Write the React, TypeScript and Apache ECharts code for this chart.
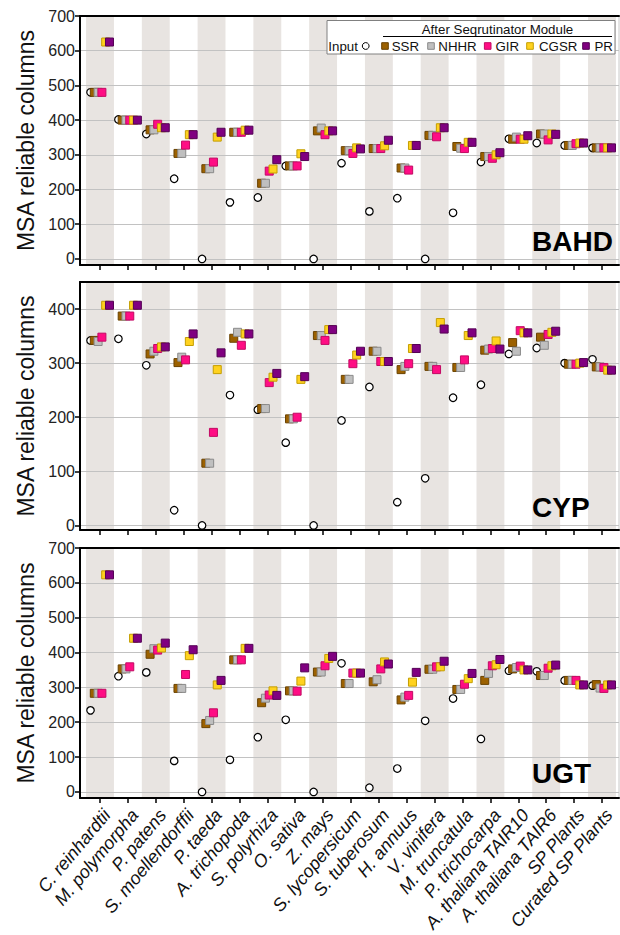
import React, { useEffect, useRef } from 'react';
import * as echarts from 'echarts';

const categories = [
  'C. reinhardtii', 'M. polymorpha', 'P. patens', 'S. moellendorffii', 'P. taeda',
  'A. trichopoda', 'S. polyrhiza', 'O. sativa', 'Z. mays', 'S. lycopersicum',
  'S. tuberosum', 'H. annuus', 'V. vinifera', 'M. truncatula', 'P. trichocarpa',
  'A. thaliana TAIR10', 'A. thaliana TAIR6', 'SP Plants', 'Curated SP Plants',
];

const seriesNames = ['Input', 'SSR', 'NHHR', 'GIR', 'CGSR', 'PR'];

// BAHD
const bahdInput = [480, 402, 360, 231, 0, 163, 177, 268, 0, 276, 137, 175, 0, 133, 279, 346, 334, 327, 320];
const bahdSSR = [480, 400, 372, 304, 260, 365, 218, 268, 369, 312, 318, 262, 356, 324, 295, 345, 360, 327, 320];
const bahdNHHR = [480, 400, 372, 304, 260, 365, 218, 268, 377, 312, 318, 262, 356, 319, 295, 351, 360, 327, 320];
const bahdGIR = [480, 400, 388, 328, 279, 365, 253, 268, 358, 304, 318, 256, 352, 318, 290, 345, 343, 332, 320];
const bahdCGSR = [625, 400, 378, 358, 351, 371, 259, 303, 369, 320, 326, 327, 378, 336, 300, 345, 360, 334, 320];
const bahdPR = [625, 400, 378, 358, 365, 371, 286, 295, 369, 317, 342, 327, 378, 336, 306, 355, 359, 334, 320];

// CYP
const cypInput = [342, 345, 296, 28, 0, 241, 214, 153, 0, 194, 256, 43, 87, 236, 260, 317, 328, 300, 307];
const cypSSR = [342, 387, 317, 301, 115, 346, 216, 197, 351, 270, 322, 288, 294, 292, 324, 338, 348, 298, 293];
const cypNHHR = [340, 387, 322, 311, 115, 357, 216, 197, 351, 270, 322, 294, 294, 292, 326, 322, 333, 298, 293];
const cypGIR = [348, 387, 327, 306, 172, 333, 264, 200, 342, 299, 303, 299, 288, 306, 327, 360, 353, 298, 292];
const cypCGSR = [407, 407, 330, 340, 288, 354, 274, 270, 362, 315, 303, 327, 375, 351, 341, 356, 357, 300, 287];
const cypPR = [407, 407, 330, 354, 319, 354, 281, 275, 362, 322, 303, 327, 363, 356, 326, 356, 359, 301, 287];

// UGT
const ugtInput = [234, 332, 343, 89, 0, 92, 157, 207, 0, 369, 12, 67, 204, 268, 152, 348, 346, 320, 305];
const ugtSSR = [283, 353, 395, 297, 196, 379, 256, 290, 344, 311, 316, 264, 352, 294, 320, 353, 334, 320, 308];
const ugtNHHR = [283, 353, 411, 297, 205, 379, 269, 290, 344, 311, 322, 272, 352, 294, 340, 357, 334, 320, 298];
const ugtGIR = [283, 359, 407, 337, 227, 379, 278, 289, 362, 341, 353, 277, 359, 309, 362, 361, 355, 320, 297];
const ugtCGSR = [623, 441, 413, 391, 307, 412, 290, 318, 383, 341, 373, 315, 359, 325, 365, 350, 362, 307, 307];
const ugtPR = [623, 441, 427, 408, 320, 412, 277, 356, 389, 341, 367, 343, 375, 340, 380, 350, 364, 307, 307];

const ticks700 = [0, 100, 200, 300, 400, 500, 600, 700];
const ticks400 = [0, 100, 200, 300, 400];

const FONT = 'Liberation Sans, Arial, sans-serif';
const X_MIN = -0.717;
const X_MAX = 18.61;
const OFFSETS = [-0.34, -0.204, -0.068, 0.068, 0.204, 0.34];
const MARKERS = [
  { symbol: 'circle', color: '#ffffff', border: '#000000', size: 7.5, bw: 1.2 },
  { symbol: 'rect', color: '#9c6100', border: '#6a4200', size: 8, bw: 1 },
  { symbol: 'rect', color: '#bfbfbf', border: '#8a8a8a', size: 8, bw: 1 },
  { symbol: 'rect', color: '#ff0d84', border: '#c20a63', size: 8, bw: 1 },
  { symbol: 'rect', color: '#ffd21f', border: '#c49e00', size: 8, bw: 1 },
  { symbol: 'rect', color: '#800080', border: '#540054', size: 8, bw: 1 },
];

const panels = [
  { label: 'BAHD', top: 16, height: 249, min: -17.5, max: 700, ticks: ticks700, labelY: 241.7,
    data: [bahdInput, bahdSSR, bahdNHHR, bahdGIR, bahdCGSR, bahdPR] },
  { label: 'CYP', top: 282, height: 248, min: -8.5, max: 450, ticks: ticks400, labelY: 507.9,
    data: [cypInput, cypSSR, cypNHHR, cypGIR, cypCGSR, cypPR] },
  { label: 'UGT', top: 548, height: 250, min: -17.5, max: 700, ticks: ticks700, labelY: 773.7,
    data: [ugtInput, ugtSSR, ugtNHHR, ugtGIR, ugtCGSR, ugtPR] },
];

function buildOption() {
  const catIdx = categories.map((_, i) => i);
  const grid: any[] = [];
  const xAxis: any[] = [];
  const yAxis: any[] = [];
  const series: any[] = [];
  const graphic: any[] = [];

  panels.forEach((p, pi) => {
    grid.push({ left: 80, top: p.top, width: 539, height: p.height, show: true, borderColor: '#c8c8c8', borderWidth: 1, backgroundColor: 'transparent' });
    xAxis.push({
      type: 'value', gridIndex: pi, min: X_MIN, max: X_MAX, position: 'bottom', z: 10,
      axisLine: { show: true, onZero: false, lineStyle: { color: '#000', width: 2 } },
      axisTick: { show: true, customValues: catIdx, length: 5, lineStyle: { color: '#000', width: 1.5 } },
      axisLabel: {
        show: pi === 2, customValues: catIdx,
        formatter: (v: number) => categories[Math.round(v)] || '',
        rotate: 50, align: 'right', verticalAlign: 'top',
        fontStyle: 'italic', fontSize: 18, fontFamily: FONT, color: '#111', margin: 8,
      },
      splitLine: { show: false },
    });
    xAxis.push({
      type: 'value', gridIndex: pi, min: X_MIN, max: X_MAX, position: 'top', z: 10,
      axisLine: { show: true, onZero: false, lineStyle: { color: '#000', width: 2 } },
      axisTick: { show: false }, axisLabel: { show: false }, splitLine: { show: false },
    });
    yAxis.push({
      type: 'value', gridIndex: pi, min: p.min, max: p.max, z: 10,
      axisLine: { show: true, onZero: false, lineStyle: { color: '#000', width: 2 } },
      axisTick: { show: true, customValues: p.ticks, length: 5, lineStyle: { color: '#000', width: 1.5 } },
      axisLabel: { customValues: p.ticks, fontSize: 16, fontFamily: FONT, color: '#222', margin: 5 },
      splitLine: { show: false },
      name: 'MSA reliable columns', nameLocation: 'middle', nameGap: 42,
      nameTextStyle: { fontSize: 23, fontFamily: FONT, color: '#111' },
    });

    const xi = pi * 2;
    series.push({
      type: 'scatter', xAxisIndex: xi, yAxisIndex: pi, data: [], silent: true,
      markArea: {
        silent: true, z: 1, itemStyle: { color: '#e8e4e1' },
        data: catIdx.filter((i) => i % 2 === 0).map((i) => [{ xAxis: i - 0.5 }, { xAxis: i + 0.5 }]),
      },
      markLine: {
        silent: true, z: 2, symbol: ['none', 'none'], label: { show: false },
        lineStyle: { color: '#c2c2c2', width: 1, type: 'solid' },
        data: p.ticks.map((t) => ({ yAxis: t })),
      },
    });

    p.data.forEach((vals, k) => {
      const m = MARKERS[k];
      series.push({
        type: 'scatter', name: seriesNames[k], xAxisIndex: xi, yAxisIndex: pi, z: 3,
        symbol: m.symbol, symbolSize: m.size, silent: true,
        itemStyle: { color: m.color, borderColor: m.border, borderWidth: m.bw, opacity: 1 },
        data: vals.map((v, i) => [i + OFFSETS[k], v]),
      });
    });

    graphic.push({
      type: 'text', left: 532, top: p.labelY - 14, z: 20,
      style: { text: p.label, font: `bold 28px ${FONT}`, fill: '#000', textVerticalAlign: 'top' },
    });
  });

  // legend
  const ly = 46;
  graphic.push({ type: 'rect', shape: { x: 327, y: 20.5, width: 288, height: 33.5 }, style: { fill: '#fff', stroke: '#808080', lineWidth: 1 }, z: 20 });
  graphic.push({ type: 'text', x: 497.5, y: 29, z: 21, style: { text: 'After Seqrutinator Module', font: `13.3px ${FONT}`, fill: '#111', align: 'center', verticalAlign: 'middle' } });
  graphic.push({ type: 'line', shape: { x1: 383, y1: 36.5, x2: 612, y2: 36.5 }, style: { stroke: '#000', lineWidth: 1 }, z: 21 });
  graphic.push({ type: 'text', x: 328.3, y: ly, z: 21, style: { text: 'Input', font: `13.3px ${FONT}`, fill: '#111', align: 'left', verticalAlign: 'middle' } });
  graphic.push({ type: 'circle', shape: { cx: 365.7, cy: ly, r: 3.4 }, style: { fill: '#fff', stroke: '#000', lineWidth: 1 }, z: 21 });
  const legItems = [
    { k: 1, sq: 385, tx: 391.7 },
    { k: 2, sq: 431, tx: 438.3 },
    { k: 3, sq: 487.7, tx: 495.5 },
    { k: 4, sq: 530, tx: 539 },
    { k: 5, sq: 586, tx: 594.5 },
  ];
  legItems.forEach((it) => {
    const m = MARKERS[it.k];
    graphic.push({ type: 'rect', shape: { x: it.sq - 3.3, y: ly - 3.3, width: 6.6, height: 6.6 }, style: { fill: m.color, stroke: m.border, lineWidth: 1 }, z: 21 });
    graphic.push({ type: 'text', x: it.tx, y: ly, z: 21, style: { text: seriesNames[it.k], font: `13.3px ${FONT}`, fill: '#111', align: 'left', verticalAlign: 'middle' } });
  });

  return {
    animation: false,
    backgroundColor: '#ffffff',
    textStyle: { fontFamily: FONT },
    grid, xAxis, yAxis, series, graphic,
  };
}

export default function App() {
  const ref = useRef<HTMLDivElement>(null);
  useEffect(() => {
    if (!ref.current) return;
    const chart = echarts.init(ref.current, undefined, { renderer: 'svg' });
    chart.setOption(buildOption() as any);
    return () => chart.dispose();
  }, []);
  return (
    <div
      ref={ref}
      style={{ position: 'absolute', left: 0, top: 0, width: 620, height: 935 }}
    />
  );
}
